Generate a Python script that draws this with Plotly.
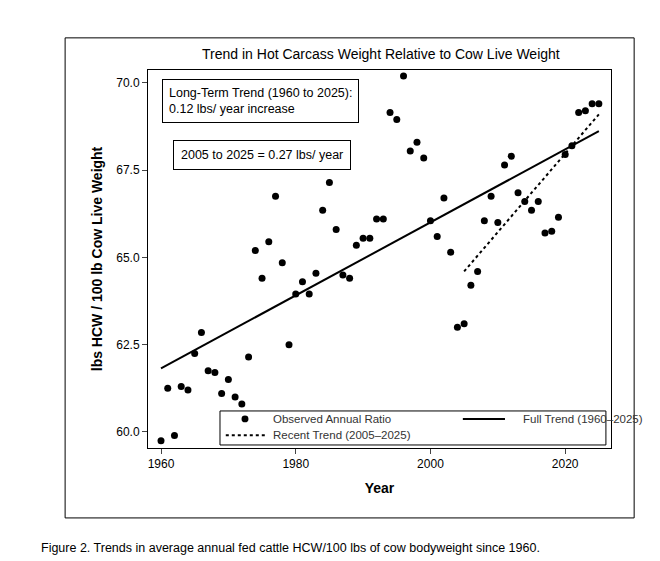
import plotly.graph_objects as go

years = list(range(1960, 2026))
ratio = [59.75, 61.25, 59.9, 61.3, 61.2, 62.25, 62.85, 61.75, 61.7, 61.1,
         61.5, 61.0, 60.8, 62.15, 65.2, 64.4, 65.45, 66.75, 64.85, 62.5,
         63.95, 64.3, 63.95, 64.55, 66.35, 67.15, 65.8, 64.5, 64.4, 65.35,
         65.55, 65.55, 66.1, 66.1, 69.15, 68.95, 70.2, 68.05, 68.3, 67.85,
         66.05, 65.6, 66.7, 65.15, 63.0, 63.1, 64.2, 64.6, 66.05, 66.75,
         66.0, 67.65, 67.9, 66.85, 66.6, 66.35, 66.6, 65.7, 65.75, 66.15,
         67.95, 68.2, 69.15, 69.2, 69.4, 69.4]

full_x = [1960, 2025]
full_y = [61.82, 68.62]
recent_x = [2005, 2025]
recent_y = [64.6, 69.1]

font = "Arial, Liberation Sans, sans-serif"

fig = go.Figure()
fig.add_trace(go.Scatter(x=years, y=ratio, mode="markers", name="Observed Annual Ratio",
                         marker=dict(color="black", size=7)))
fig.add_trace(go.Scatter(x=full_x, y=full_y, mode="lines", name="Full Trend (1960\u20132025)",
                         line=dict(color="black", width=2)))
fig.add_trace(go.Scatter(x=recent_x, y=recent_y, mode="lines", name="Recent Trend (2005\u20132025)",
                         line=dict(color="black", width=2, dash="dot")))

fig.update_layout(
    width=660, height=561,
    margin=dict(l=140, r=57, t=62, b=121, autoexpand=False),
    paper_bgcolor="white", plot_bgcolor="white",
    font=dict(family=font, color="black", size=12),
    title=dict(text="Trend in Hot Carcass Weight Relative to Cow Live Weight",
               x=0.565, xanchor="center", y=0.918, yanchor="middle", font=dict(size=14)),
    xaxis=dict(range=[1958.07, 2026.8], tickvals=[1960, 1980, 2000, 2020], ticks="outside",
               ticklen=5, showgrid=False, zeroline=False, showline=True, mirror=True,
               linecolor="black", linewidth=1, tickfont=dict(size=12), automargin=False,
               title=dict(text="<b>Year</b>", font=dict(size=14), standoff=12)),
    yaxis=dict(range=[59.54, 70.37], tickvals=[60, 62.5, 65, 67.5, 70], tickformat=".1f",
               ticks="outside", ticklen=5, showgrid=False, zeroline=False, showline=True,
               mirror=True, linecolor="black", linewidth=1, tickfont=dict(size=12),
               automargin=False,
               title=dict(text="<b>lbs HCW / 100 lb Cow Live Weight</b>", font=dict(size=14), standoff=10)),
    showlegend=False,
)

# outer frame
fig.add_shape(type="rect", xref="paper", yref="paper", x0=-0.179, x1=1.05, y0=-0.185, y1=1.085,
              line=dict(color="black", width=1))

# legend box drawn by hand
fig.add_shape(type="rect", xref="paper", yref="paper", x0=0.1555, x1=0.989, y0=0.008, y1=0.098,
              line=dict(color="black", width=1), fillcolor="white")
fig.add_shape(type="circle", xref="paper", yref="paper", x0=0.202, x1=0.217, y0=0.068, y1=0.086,
              fillcolor="black", line=dict(color="black", width=0))
fig.add_shape(type="line", xref="paper", yref="paper", x0=0.680, x1=0.771, y0=0.077, y1=0.077,
              line=dict(color="black", width=2))
fig.add_shape(type="line", xref="paper", yref="paper", x0=0.168, x1=0.253, y0=0.034, y1=0.034,
              line=dict(color="black", width=2, dash="dot"))
for tx, ty, label in [(0.266, 0.077, "Observed Annual Ratio"),
                      (0.806, 0.077, "Full Trend (1960\u20132025)"),
                      (0.266, 0.034, "Recent Trend (2005\u20132025)")]:
    fig.add_annotation(xref="paper", yref="paper", x=tx, y=ty, xanchor="left", yanchor="middle",
                       text=label, showarrow=False, font=dict(size=11.5, color="#333"))

fig.add_annotation(xref="paper", yref="paper", x=0.03, y=0.975, xanchor="left", yanchor="top",
                   text="Long-Term Trend (1960 to 2025):<br>0.12 lbs/ year increase", align="left",
                   showarrow=False, bordercolor="black", borderwidth=1, borderpad=6,
                   font=dict(size=12.5), bgcolor="white")
fig.add_annotation(xref="paper", yref="paper", x=0.053, y=0.815, xanchor="left", yanchor="top",
                   text="2005 to 2025 = 0.27 lbs/ year", showarrow=False, bordercolor="black",
                   borderwidth=1, borderpad=7, font=dict(size=12.5), bgcolor="white")
fig.add_annotation(xref="paper", yref="paper", x=-0.235, y=-0.265, xanchor="left", yanchor="middle",
                   text="Figure 2. Trends in average annual fed cattle HCW/100 lbs of cow bodyweight since 1960.",
                   showarrow=False, font=dict(size=12.5))

fig.write_html("out.html")
